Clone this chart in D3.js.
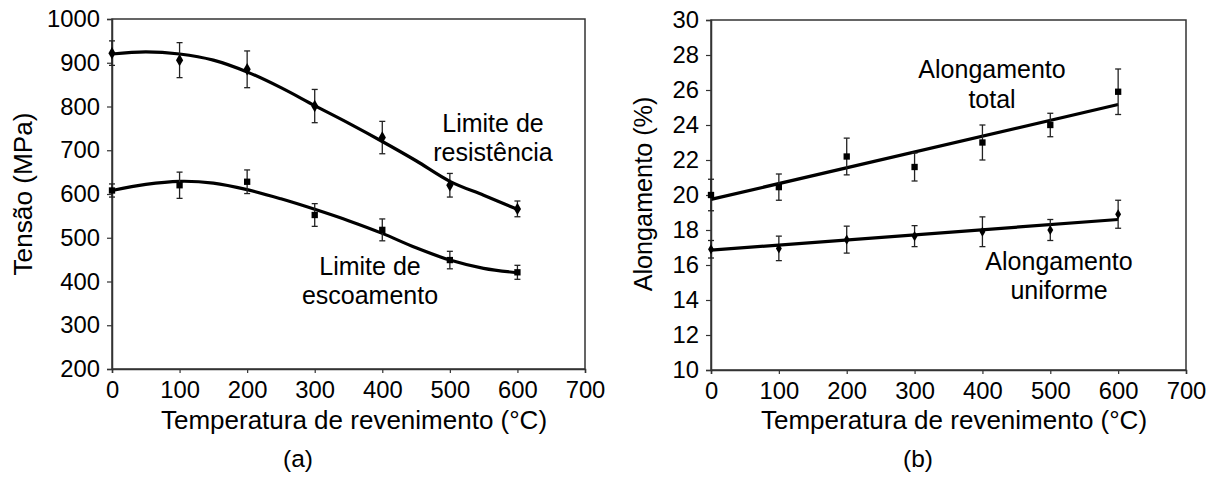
<!DOCTYPE html>
<html lang="pt">
<head>
<meta charset="utf-8">
<title>Tensão e alongamento vs temperatura de revenimento</title>
<script src="https://cdn.jsdelivr.net/npm/d3@7"></script>
<style>
  body { margin: 0; background: #fff; }
  svg text { font-family: "Liberation Sans", Arial, sans-serif; fill: #000; }
</style>
</head>
<body>
<script>

// temperaturas medidas (°C)
var temps = [0, 100, 200, 300, 400, 500, 600];

// (a) limite de resistência e de escoamento (MPa), com barras de erro
var resistMean = [922, 906, 885, 801, 729, 620, 566];
var resistErr  = [28, 40, 42, 38, 37, 27, 18];
var yieldMean  = [608, 620, 628, 552, 518, 449, 421];
var yieldErr   = [15, 30, 27, 26, 25, 20, 16];

// curvas de ajuste
var fitTemps   = [0, 50, 100, 150, 200, 250, 300, 350, 400, 450, 500, 550, 600];
var resistFit  = [920, 925, 920, 906, 879, 843, 802, 762, 720, 676, 629, 597, 565];
var yieldFit   = [608, 622, 629, 625, 610, 589, 565, 539, 510, 477, 449, 430, 420];

// (b) alongamento (%)
var totalMean   = [20.0, 20.45, 22.2, 21.6, 23.0, 24.0, 25.9];
var totalErr    = [0.9, 0.75, 1.05, 0.8, 1.0, 0.67, 1.3];
var uniformMean = [16.9, 16.95, 17.45, 17.65, 17.9, 18.0, 18.9];
var uniformErr  = [0.5, 0.7, 0.77, 0.6, 0.85, 0.6, 0.8];

// retas de ajuste (extremos 0 e 600 °C)
var lineTemps  = [0, 600];
var totalFit   = [19.75, 25.17];
var uniformFit = [16.85, 18.6];

var xTicks = [0, 100, 200, 300, 400, 500, 600, 700];
var stressTicks = [200, 300, 400, 500, 600, 700, 800, 900, 1000];
var elongTicks = [10, 12, 14, 16, 18, 20, 22, 24, 26, 28, 30];

var W = 1220, H = 477;
var tickFS = 23.8;

var svg = d3.select("body").append("svg")
  .attr("width", W)
  .attr("height", H);

function label(x, y, txt, size, rot) {
  return svg.append("text")
    .attr("transform", "translate(" + x + "," + y + ")" + (rot ? " rotate(" + rot + ")" : ""))
    .attr("text-anchor", "middle")
    .attr("font-size", size)
    .text(txt);
}

function panel(opt) {
  var x = d3.scaleLinear().domain([0, 700]).range([opt.left, opt.right]);
  var y = d3.scaleLinear().domain(opt.yDomain).range([opt.bottom, opt.top]);

  // moldura
  svg.append("rect")
    .attr("x", opt.left).attr("y", opt.top)
    .attr("width", opt.right - opt.left).attr("height", opt.bottom - opt.top)
    .attr("fill", "none").attr("stroke", "#333").attr("stroke-width", 1.5);

  var xAxis = svg.append("g")
    .attr("transform", "translate(0," + opt.bottom + ")")
    .call(d3.axisBottom(x).tickValues(xTicks).tickSize(4).tickPadding(8).tickFormat(d3.format("d")));
  var yAxis = svg.append("g")
    .attr("transform", "translate(" + opt.left + ",0)")
    .call(d3.axisLeft(y).tickValues(opt.yTicks).tickSize(5).tickPadding(7).tickFormat(d3.format("d")));

  [xAxis, yAxis].forEach(function(a) {
    a.select(".domain").attr("stroke", "#333").attr("stroke-width", 1.5);
    a.selectAll(".tick line").attr("stroke", "#333").attr("stroke-width", 1.2);
    a.selectAll(".tick text")
      .attr("font-size", tickFS)
      .attr("fill", "#000")
      .attr("font-family", "Liberation Sans, Arial, sans-serif");
  });

  var line = d3.line()
    .x(function(d) { return x(d[0]); })
    .y(function(d) { return y(d[1]); });

  opt.fits.forEach(function(f) {
    svg.append("path")
      .datum(d3.zip(f.t, f.v))
      .attr("d", line.curve(f.curve || d3.curveLinear))
      .attr("fill", "none")
      .attr("stroke", "#000")
      .attr("stroke-width", 3.2);
  });

  opt.series.forEach(function(s) {
    var pts = d3.zip(temps, s.mean, s.err);
    var g = svg.append("g").selectAll("g")
      .data(pts)
      .enter().append("g");

    g.append("line")
      .attr("x1", function(d) { return x(d[0]); })
      .attr("x2", function(d) { return x(d[0]); })
      .attr("y1", function(d) { return y(d[1] - d[2]); })
      .attr("y2", function(d) { return y(d[1] + d[2]); })
      .attr("stroke", "#222").attr("stroke-width", 1.3);

    [1, -1].forEach(function(sg) {
      g.append("line")
        .attr("x1", function(d) { return x(d[0]) - 3; })
        .attr("x2", function(d) { return x(d[0]) + 3; })
        .attr("y1", function(d) { return y(d[1] + sg * d[2]); })
        .attr("y2", function(d) { return y(d[1] + sg * d[2]); })
        .attr("stroke", "#222").attr("stroke-width", 1.3);
    });

    g.append("path")
      .attr("transform", function(d) { return "translate(" + x(d[0]) + "," + y(d[1]) + ")"; })
      .attr("d", d3.symbol().type(s.symbol).size(s.size))
      .attr("fill", "#000");
  });

  return { x: x, y: y };
}

// painel (a)
panel({
  left: 112, right: 585, top: 19, bottom: 369,
  yDomain: [200, 1000], yTicks: stressTicks,
  fits: [
    { t: fitTemps, v: resistFit, curve: d3.curveCatmullRom },
    { t: fitTemps, v: yieldFit, curve: d3.curveCatmullRom }
  ],
  series: [
    { mean: resistMean, err: resistErr, symbol: d3.symbolDiamond, size: 45 },
    { mean: yieldMean, err: yieldErr, symbol: d3.symbolSquare, size: 40 }
  ]
});

// painel (b)
panel({
  left: 711, right: 1186, top: 20, bottom: 370,
  yDomain: [10, 30], yTicks: elongTicks,
  fits: [
    { t: lineTemps, v: totalFit },
    { t: lineTemps, v: uniformFit }
  ],
  series: [
    { mean: totalMean, err: totalErr, symbol: d3.symbolSquare, size: 40 },
    { mean: uniformMean, err: uniformErr, symbol: d3.symbolDiamond, size: 30 }
  ]
});

// títulos dos eixos
label(354, 429, "Temperatura de revenimento (°C)", 26);
label(954, 429, "Temperatura de revenimento (°C)", 26);
label(32, 194, "Tensão (MPa)", 26.2, -90);
label(652, 194, "Alongamento (%)", 25.2, -90);
label(298, 467, "(a)", 24.5);
label(918, 467, "(b)", 24.5);

// rótulos das curvas
label(493, 132, "Limite de", 25);
label(493, 161, "resistência", 25);
label(370, 275, "Limite de", 25);
label(370, 304, "escoamento", 25);
label(992, 78, "Alongamento", 25);
label(992, 108, "total", 25);
label(1059, 270, "Alongamento", 25);
label(1059, 299, "uniforme", 25);

</script>
</body>
</html>
